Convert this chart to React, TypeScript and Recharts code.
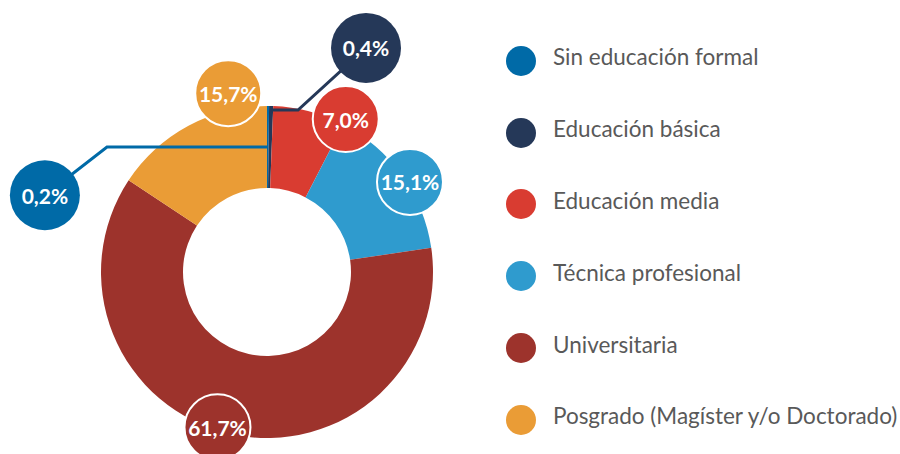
import React from 'react';
import { PieChart, Pie, Cell, Legend } from 'recharts';

const categories = [
  'Sin educación formal',
  'Educación básica',
  'Educación media',
  'Técnica profesional',
  'Universitaria',
  'Posgrado (Magíster y/o Doctorado)'
];
const shares = [0.2, 0.4, 7.0, 15.1, 61.7, 15.7];
const shareLabels = ['0,2%', '0,4%', '7,0%', '15,1%', '61,7%', '15,7%'];
const colors = ['#006AA7', '#253858', '#D93C31', '#2F9BCE', '#9D332C', '#EA9C36'];

const data = categories.map((name, i) => ({ name, value: shares[i] }));

// Excel-style bubble placement: angle shift from the slice mid angle, and distance from centre
const placement = [
  { shift: 71.3, dist: 235, border: false, leader: { r: 125, elbowX: -160 } },
  { shift: -22.4, dist: 245, border: false, leader: { r: 162, elbowX: 31 } },
  { shift: -12.5, dist: 172, border: true },
  { shift: -3.3, dist: 169, border: true },
  { shift: -5.1, dist: 163, border: true },
  { shift: -16, dist: 183, border: true }
];

const RAD = Math.PI / 180;

const BubbleLabel = (props: any) => {
  const { cx, cy, midAngle, index } = props;
  if (cx == null || midAngle == null) return null;
  const p = placement[index];
  const a = (midAngle + p.shift) * RAD;
  const lx = cx + p.dist * Math.cos(a);
  const ly = cy - p.dist * Math.sin(a);
  const color = colors[index];

  let leader = null;
  if (p.leader) {
    const sx = cx + p.leader.r * Math.cos(midAngle * RAD);
    const sy = cy - p.leader.r * Math.sin(midAngle * RAD);
    const ex = cx + p.leader.elbowX;
    leader = (
      <polyline
        points={`${sx},${sy} ${ex},${sy} ${lx},${ly}`}
        fill="none"
        stroke={color}
        strokeWidth={3}
      />
    );
  }

  return (
    <g>
      {leader}
      <circle
        cx={lx}
        cy={ly}
        r={p.border ? 33 : 35}
        fill={color}
        stroke={p.border ? '#fff' : 'none'}
        strokeWidth={2}
      />
      <text
        x={lx}
        y={ly}
        textAnchor="middle"
        dominantBaseline="central"
        fill="#fff"
        fontFamily="Lato, 'Open Sans', sans-serif"
        fontWeight={700}
        fontSize={21}
      >
        {shareLabels[index]}
      </text>
    </g>
  );
};

const LegendList = () => (
  <div style={{ fontFamily: "Lato, 'Open Sans', sans-serif" }}>
    {categories.map((name, i) => (
      <div
        key={name}
        style={{ display: 'flex', alignItems: 'center', height: 71.8 }}
      >
        <span
          style={{
            width: 30,
            height: 30,
            borderRadius: '50%',
            background: colors[i],
            display: 'inline-block',
            flexShrink: 0
          }}
        />
        <span
          style={{
            marginLeft: 17,
            fontSize: 22.5,
            color: '#595959',
            position: 'relative',
            top: -4,
            whiteSpace: 'nowrap'
          }}
        >
          {name}
        </span>
      </div>
    ))}
  </div>
);

export default function App() {
  return (
    <div style={{ position: 'absolute', left: 0, top: 0, width: 900, height: 454, background: '#fff' }}>
      <PieChart width={900} height={454} margin={{ top: 0, right: 0, bottom: 0, left: 0 }}>
        <Pie
          data={data}
          dataKey="value"
          nameKey="name"
          cx={267}
          cy={272}
          innerRadius={84}
          outerRadius={166}
          startAngle={90}
          endAngle={-270}
          stroke="none"
          label={BubbleLabel}
          labelLine={false}
          isAnimationActive={false}
        >
          {data.map((d, i) => (
            <Cell key={d.name} fill={colors[i]} stroke="none" />
          ))}
        </Pie>
        <Legend
          content={<LegendList />}
          layout="vertical"
          verticalAlign="top"
          align="right"
          wrapperStyle={{ left: 506, top: 25, width: 394 }}
        />
      </PieChart>
    </div>
  );
}
